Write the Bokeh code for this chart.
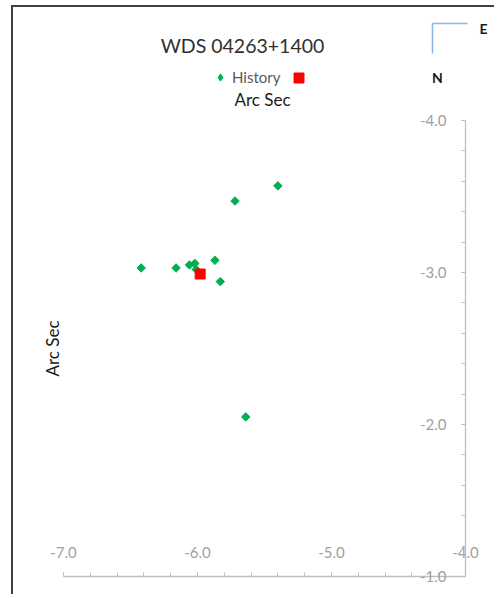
import math
from bokeh.plotting import figure
from bokeh.models import (LinearAxis, Range1d, SingleIntervalTicker, PrintfTickFormatter,
                          Label, Legend, LegendItem, Arrow, ColumnDataSource)
from bokeh.embed import file_html
from bokeh.resources import INLINE

# ---------------- data ----------------
title_text = "WDS 04263+1400"
series_name = "History"
axis_title = "Arc Sec"
x_ticks = [-7.0, -6.0, -5.0, -4.0]
y_ticks = [-4.0, -3.0, -2.0, -1.0]
history_x = [-5.40, -5.72, -6.42, -6.16, -6.06, -6.02, -6.01, -5.87, -5.83, -5.64]
history_y = [-3.57, -3.47, -3.03, -3.03, -3.05, -3.06, -3.02, -3.08, -2.94, -2.05]
current_x = [-5.98]
current_y = [-2.99]

# ---------------- layout ----------------
FONT = "Lato"
W, H = 483, 589
MX, MY, BW = 11, 5, 2                 # page margin of the chart box and its border width
OFF_X, OFF_Y = MX + BW, MY + BW       # page offset of canvas
PL, PT, PW, PH = 50, 113, 402, 456    # plot-area box (axes extent) inside canvas

ux = (x_ticks[-1] - x_ticks[0]) / PW
uy = (y_ticks[-1] - y_ticks[0]) / PH
x_lo = x_ticks[0] - PL * ux
x_hi = x_ticks[-1] + (W - PL - PW) * ux
y_top = y_ticks[0] - PT * uy
y_bot = y_ticks[-1] + (H - PT - PH) * uy


def px_x(px):
    return x_ticks[0] + (px - OFF_X - PL) * ux


def px_y(py):
    return y_ticks[0] + (py - OFF_Y - PT) * uy


p = figure(width=W, height=H, output_backend="svg", toolbar_location=None,
           x_range=Range1d(x_lo, x_hi), y_range=Range1d(y_bot, y_top),
           x_axis_location=None, y_axis_location=None,
           min_border=0)
p.outline_line_color = None
p.background_fill_color = "white"
p.border_fill_color = "white"
for g in p.grid:
    g.visible = False
p.styles = {"margin-left": f"{MX}px", "margin-top": f"{MY}px",
            "border-left": f"{BW}px solid #404040", "border-top": f"{BW}px solid #404040"}

AX_COL = "#BFBFBF"
LAB_COL = "#A0A0A0"


def style_axis(ax, standoff):
    ax.axis_line_color = AX_COL
    ax.axis_line_width = 1.3
    ax.major_tick_line_color = AX_COL
    ax.minor_tick_line_color = AX_COL
    ax.major_tick_in = 0
    ax.major_tick_out = 4
    ax.minor_tick_in = 0
    ax.minor_tick_out = 4
    ax.major_label_text_color = LAB_COL
    ax.major_label_text_font = FONT
    ax.major_label_text_font_size = "15px"
    ax.major_label_standoff = standoff


xaxis = LinearAxis(fixed_location=y_ticks[-1], bounds=(x_ticks[0], x_ticks[-1]),
                   ticker=SingleIntervalTicker(interval=1.0, num_minor_ticks=5),
                   formatter=PrintfTickFormatter(format="%.1f"))
style_axis(xaxis, 15)
p.add_layout(xaxis, "above")

yaxis = LinearAxis(fixed_location=x_ticks[-1], bounds=(y_ticks[0], y_ticks[-1]),
                   ticker=SingleIntervalTicker(interval=1.0, num_minor_ticks=5),
                   formatter=PrintfTickFormatter(format="%.1f"))
style_axis(yaxis, 15)
p.add_layout(yaxis, "left")

GREEN = "#00B050"
src_h = ColumnDataSource(dict(x=history_x, y=history_y,
                              ang=[math.pi / 4] * len(history_x)))
r_h = p.scatter("x", "y", source=src_h, marker="square", angle="ang", size=6,
                fill_color=GREEN, line_color=GREEN)
# diamond-shaped stand-in used only for the legend swatch (not drawn on the plot)
r_h_key = p.scatter("x", "y", source=src_h, marker="diamond", size=9,
                    fill_color=GREEN, line_color=GREEN, visible=False)
src_c = ColumnDataSource(dict(x=current_x, y=current_y))
r_c = p.scatter("x", "y", source=src_c, marker="square", size=10,
                fill_color="#FF0000", line_color="#FF0000")

leg1 = Legend(items=[LegendItem(label=series_name, renderers=[r_h_key])],
              location=(198, 510.5), orientation="horizontal",
              glyph_width=18, glyph_height=18, label_height=13, label_standoff=3,
              padding=0, margin=0, spacing=0,
              border_line_color=None, background_fill_alpha=0,
              inactive_fill_alpha=0, click_policy="none",
              label_text_font=FONT, label_text_font_size="15px", label_text_color="#595959")
p.add_layout(leg1, "center")
leg2 = Legend(items=[LegendItem(label=" ", renderers=[r_c])],
              location=(272.5, 506.5), orientation="horizontal",
              glyph_width=25, glyph_height=25, label_height=13, label_standoff=0,
              padding=0, margin=0, spacing=0,
              border_line_color=None, background_fill_alpha=0,
              label_text_font=FONT, label_text_font_size="14px")
p.add_layout(leg2, "center")

p.add_layout(Label(x=px_x(242), y=px_y(45), text=title_text, text_align="center",
                   text_baseline="middle", text_font=FONT, text_font_size="19.5px",
                   text_color="#303030"))
p.add_layout(Label(x=px_x(262), y=px_y(99), text=axis_title, text_align="center",
                   text_baseline="middle", text_font=FONT, text_font_size="17px",
                   text_color="#1a1a1a"))
p.add_layout(Label(x=px_x(52), y=px_y(348), text=axis_title, text_align="center",
                   text_baseline="middle", angle=math.pi / 2, text_font=FONT,
                   text_font_size="17px", text_color="#1a1a1a"))
p.add_layout(Label(x=px_x(483), y=px_y(28), text="E", text_align="center",
                   text_baseline="middle", text_font=FONT, text_font_size="14px",
                   text_font_style="bold", text_color="#1a1a1a"))
p.add_layout(Label(x=px_x(437), y=px_y(77), text="N", text_align="center",
                   text_baseline="middle", text_font=FONT, text_font_size="14px",
                   text_font_style="bold", text_color="#1a1a1a"))
p.add_layout(Arrow(end=None, x_start=px_x(432), y_start=px_y(23), x_end=px_x(467),
                   y_end=px_y(23), line_color="#8DB4E2", line_width=1.5))
p.add_layout(Arrow(end=None, x_start=px_x(432), y_start=px_y(23), x_end=px_x(432),
                   y_end=px_y(53), line_color="#8DB4E2", line_width=1.5))

open("out.html", "w").write(file_html(p, INLINE))
